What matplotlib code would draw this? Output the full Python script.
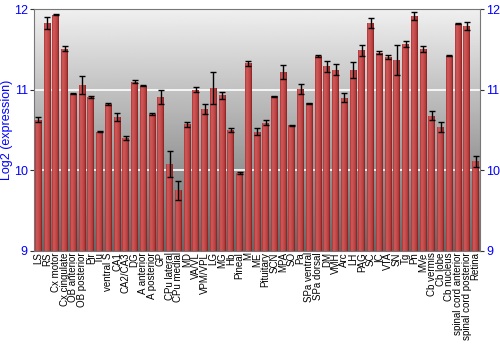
import numpy as np
import matplotlib
matplotlib.use('Agg')
import matplotlib.pyplot as plt
from matplotlib.colors import LinearSegmentedColormap

plt.rcParams['font.family'] = ['Liberation Sans', 'DejaVu Sans']

regions = ['LS', 'RS', 'Cx motor', 'Cx cingulate', 'OB anterior', 'OB posterior', 'Pir', 'Tu',
           'ventral S', 'CA1', 'CA2/CA3', 'DG', 'A anterior', 'A posterior', 'GP', 'CPu lateral',
           'CPu medial', 'MD', 'VA/VL', 'VPM/VPL', 'LG', 'MG', 'Hb', 'Pineal', 'M', 'ME',
           'Pituitary', 'SCN', 'MPA', 'SO', 'Pa', 'SPa ventral', 'SPa dorsal', 'DM', 'VMH', 'Arc',
           'LH', 'PAG', 'SC', 'IC', 'VTA', 'SN', 'Tg', 'Pn', 'MVe', 'Cb vermis', 'Cb lobe',
           'Cb nucleus', 'spinal cord anterior', 'spinal cord posterior', 'Retina']
expr = [10.63, 11.83, 11.93, 11.51, 10.95, 11.06, 10.91, 10.48, 10.82, 10.66, 10.40, 11.10,
        11.05, 10.70, 10.91, 10.08, 9.75, 10.57, 11.00, 10.76, 11.02, 10.93, 10.50, 9.97,
        11.33, 10.48, 10.59, 10.92, 11.22, 10.56, 11.01, 10.83, 11.42, 11.29, 11.25, 10.90,
        11.25, 11.49, 11.83, 11.46, 11.41, 11.37, 11.57, 11.92, 11.51, 10.68, 10.54, 11.42,
        11.82, 11.79, 10.11]
err = [0.033, 0.075, 0.005, 0.033, 0.008, 0.11, 0.008, 0.01, 0.015, 0.054, 0.025, 0.02,
       0.01, 0.015, 0.09, 0.165, 0.12, 0.03, 0.033, 0.058, 0.195, 0.045, 0.02, 0.01,
       0.03, 0.04, 0.03, 0.005, 0.083, 0.008, 0.062, 0.01, 0.01, 0.066, 0.066, 0.054,
       0.1, 0.07, 0.062, 0.02, 0.025, 0.186, 0.04, 0.05, 0.037, 0.05, 0.06, 0.005,
       0.01, 0.045, 0.07]

ymin, ymax = 9, 12
x = np.arange(len(regions))
x0, x1 = -0.5, len(regions) - 0.5

fig = plt.figure(figsize=(5, 3.5), dpi=100)
ax = fig.add_axes([0.068, 0.283, 0.892, 0.691])

# grey vertical gradient background (dark at bottom, light at top)
bg = np.linspace(0.40, 0.94, 256).reshape(-1, 1)
ax.imshow(bg, cmap='gray', vmin=0, vmax=1, aspect='auto', zorder=0,
          extent=[x0, x1, ymin, ymax], origin='lower', interpolation='bilinear')

for g in [10, 11]:
    ax.axhline(g, color='white', lw=1.2, zorder=1)

# bars with horizontal (cylinder) shading
shade = np.array([[0.45, 0.8, 0.95, 0.9, 0.82, 0.74, 0.66, 0.56, 0.4, 0.2]])
cmap = LinearSegmentedColormap.from_list('bar', ['#5e1010', '#b83a3a', '#d66060'])
bars = ax.bar(x, np.array(expr) - ymin, bottom=ymin, width=0.8, color='#b03535',
              edgecolor='none', zorder=2, alpha=0.9)
for b in bars:
    im = ax.imshow(shade, cmap=cmap, vmin=0, vmax=1, aspect='auto', zorder=2.5, alpha=0.88,
                   interpolation='bilinear',
                   extent=[b.get_x(), b.get_x() + b.get_width(), ymin, b.get_y() + b.get_height()])
    im.set_clip_path(b)
ax.set_xlim(x0, x1)
ax.set_ylim(ymin, ymax)

ax.errorbar(x, expr, yerr=err, fmt='none', ecolor='black', elinewidth=1, capsize=2,
            capthick=1, zorder=3)

ax.set_xticks(x)
ax.set_xticklabels(regions, rotation=90, fontsize=7)
ax.tick_params(axis='x', length=0, pad=1)
ax.set_yticks([9, 10, 11, 12])
ax.tick_params(axis='y', colors='#333333', labelcolor='blue', labelsize=9, length=3,
               left=True, right=True, labelleft=True, labelright=True, pad=1.5)
ax.set_ylabel('Log2 (expression)', color='blue', fontsize=9)
ax.yaxis.set_label_coords(-0.047, 0.5)
for s in ax.spines.values():
    s.set_color('#777777')

fig.savefig('out.png', dpi=100)
